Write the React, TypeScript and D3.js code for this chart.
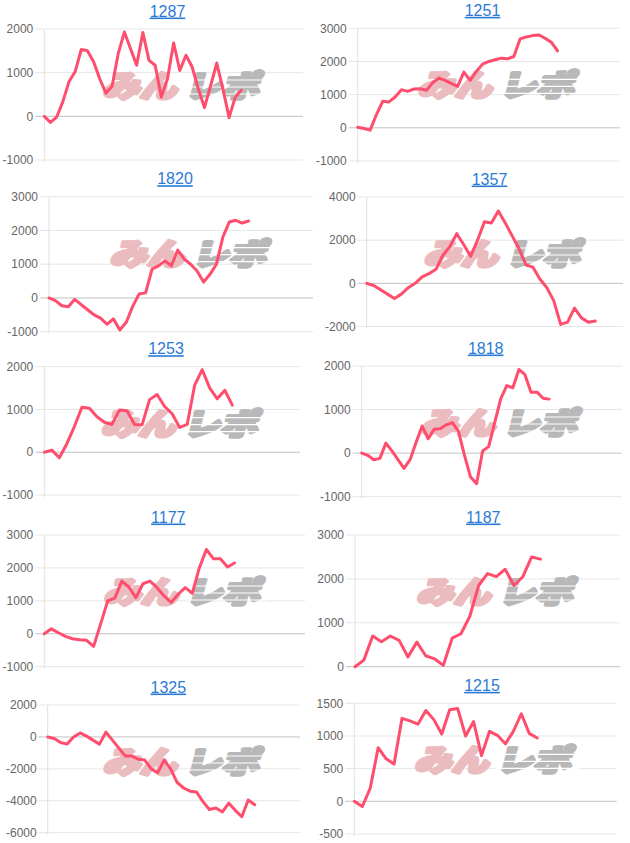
import React from "react";
import * as d3 from "d3";

// ---- data ----
const titles = ["1287", "1251", "1820", "1357", "1253", "1818", "1177", "1187", "1325", "1215"];

const s1287 = [0, -140, -20, 330, 790, 1020, 1530, 1500, 1250, 860, 530, 690, 1435, 1930, 1550, 1170, 1920, 1280, 1170, 440, 860, 1680, 1050, 1400, 1130, 630, 200, 700, 1220, 630, -30, 440, 600];
const s1251 = [20, -20, -70, 400, 800, 780, 930, 1150, 1100, 1170, 1180, 1130, 1360, 1500, 1430, 1340, 1250, 1680, 1430, 1700, 1920, 2000, 2050, 2100, 2080, 2150, 2680, 2740, 2780, 2800, 2700, 2580, 2320];
const s1820 = [0, -80, -230, -260, -40, -200, -350, -500, -600, -780, -620, -950, -720, -250, 120, 150, 850, 950, 1100, 950, 1420, 1150, 1000, 800, 470, 700, 1000, 1800, 2250, 2300, 2220, 2280];
const s1357 = [0, -100, -300, -500, -700, -500, -200, 0, 300, 450, 650, 1300, 1700, 2300, 1800, 1250, 2000, 2850, 2800, 3350, 2800, 2200, 1600, 850, 750, 200, -200, -800, -1900, -1800, -1150, -1600, -1800, -1750];
const s1253 = [0, 50, -130, 200, 600, 1050, 1030, 830, 700, 650, 990, 970, 650, 640, 1230, 1350, 1070, 900, 580, 650, 1570, 1930, 1500, 1250, 1450, 1100];
const s1818 = [0, -50, -150, -120, 230, 50, -150, -350, -150, 250, 620, 330, 550, 560, 650, 700, 500, -50, -550, -700, 50, 150, 700, 1250, 1550, 1500, 1920, 1800, 1400, 1400, 1260, 1240];
const s1177 = [0, 150, 30, -80, -150, -180, -200, -380, 300, 1000, 1080, 1600, 1420, 1100, 1520, 1600, 1400, 1150, 950, 1200, 1400, 1230, 2000, 2560, 2280, 2280, 2030, 2150];
const s1187 = [0, 150, 700, 570, 700, 600, 220, 560, 250, 180, 30, 650, 750, 1150, 1850, 2120, 2050, 2220, 1850, 2050, 2500, 2450];
const s1325 = [0, -100, -350, -450, 0, 250, 50, -200, -450, 300, -200, -700, -1200, -1200, -1400, -1450, -2000, -2250, -1450, -2000, -2850, -3200, -3400, -3450, -4050, -4550, -4450, -4700, -4150, -4600, -5000, -3950, -4250];
const s1215 = [0, -80, 200, 820, 650, 570, 1270, 1230, 1180, 1390, 1250, 1030, 1400, 1420, 1000, 1220, 700, 1070, 1010, 880, 1070, 1340, 1040, 970];

const seriesList = [s1287, s1251, s1820, s1357, s1253, s1818, s1177, s1187, s1325, s1215];

const ticks1287 = [2000, 1000, 0, -1000];
const ticks1251 = [3000, 2000, 1000, 0, -1000];
const ticks1820 = [3000, 2000, 1000, 0, -1000];
const ticks1357 = [4000, 2000, 0, -2000];
const ticks1253 = [2000, 1000, 0, -1000];
const ticks1818 = [2000, 1000, 0, -1000];
const ticks1177 = [3000, 2000, 1000, 0, -1000];
const ticks1187 = [3000, 2000, 1000, 0];
const ticks1325 = [2000, 0, -2000, -4000, -6000];
const ticks1215 = [1500, 1000, 500, 0, -500];

const tickList = [ticks1287, ticks1251, ticks1820, ticks1357, ticks1253, ticks1818, ticks1177, ticks1187, ticks1325, ticks1215];

// number of x category slots (last index) per chart
const xSlots = [42, 42, 41, 37, 34, 43, 37, 30, 39, 33];

// ---- layout (pixel boxes of each panel's plot area) ----
const boxes = [
  { l: 44.3, r: 303, t: 29, b: 160, tx: 167.5 },
  { l: 357.7, r: 620, t: 28.3, b: 161, tx: 482.5 },
  { l: 49, r: 313, t: 196.7, b: 331.7, tx: 175 },
  { l: 366.7, r: 623, t: 197, b: 326.5, tx: 489.5 },
  { l: 44.3, r: 300, t: 366.7, b: 495, tx: 166 },
  { l: 361.7, r: 621.7, t: 366, b: 496.7, tx: 485.7 },
  { l: 44.3, r: 305, t: 535, b: 666.7, tx: 168.3 },
  { l: 355, r: 620, t: 535, b: 666.7, tx: 483.3 },
  { l: 47.7, r: 300, t: 705, b: 832.7, tx: 168.3 },
  { l: 354.3, r: 616.7, t: 703.3, b: 834, tx: 482 },
];

const LINE = "#ff4d6d";
const FONT = "Arial, 'Liberation Sans', Helvetica, sans-serif";
const WM_FONT = "'Noto Sans CJK JP', 'Noto Sans', sans-serif";

function Panel({ i }: { i: number }) {
  const box = boxes[i];
  const ticks = tickList[i];
  const data = seriesList[i];
  const y = d3
    .scaleLinear()
    .domain([d3.min(ticks) as number, d3.max(ticks) as number])
    .range([box.b, box.t]);
  const x = d3.scaleLinear().domain([0, xSlots[i]]).range([box.l, box.r]);
  const line = d3
    .line<number>()
    .x((_, k) => x(k))
    .y((v) => y(v))
    .curve(d3.curveLinear);
  const wmCx = (box.l + box.r) / 2 + 10;
  const wmCy = box.t + 56;
  return (
    <g>
      <text
        x={box.tx}
        y={box.t - 12.5}
        textAnchor="middle"
        fontFamily={FONT}
        fontSize={16}
        fill="#2b7bd6"
        textDecoration="underline"
      >
        {titles[i]}
      </text>
      {ticks.map((t) => (
        <g key={t}>
          <line
            x1={box.l - 9}
            x2={box.r}
            y1={y(t)}
            y2={y(t)}
            stroke={t === 0 ? "#c2c2c2" : "#e6e6e6"}
            strokeWidth={1}
          />
          <text
            x={box.l - 11}
            y={y(t)}
            dy="0.35em"
            textAnchor="end"
            fontFamily={FONT}
            fontSize={12}
            fill="#666"
          >
            {t}
          </text>
        </g>
      ))}
      <line x1={box.l} x2={box.l} y1={box.t} y2={box.b + 2} stroke="#e0e0e0" strokeWidth={1} />
      <g transform={`translate(${wmCx},${wmCy}) skewX(-14)`}>
        <text
          x={-78}
          y={12}
          textLength={74}
          lengthAdjust="spacingAndGlyphs"
          fontFamily={WM_FONT}
          fontWeight={900}
          fontSize={30}
          fill="#ebbcbf"
          stroke="#ebbcbf"
          strokeWidth={3.6}
          strokeLinejoin="round"
        >
          みん
        </text>
        <text
          x={4}
          y={12}
          textLength={74}
          lengthAdjust="spacingAndGlyphs"
          fontFamily={WM_FONT}
          fontWeight={900}
          fontSize={30}
          fill="#b8b8b8"
          stroke="#b8b8b8"
          strokeWidth={3.6}
          strokeLinejoin="round"
        >
          レポ
        </text>
        {[-5, 2, 9].map((dy) => (
          <line key={dy} x1={2} x2={86} y1={dy} y2={dy} stroke="#fff" strokeWidth={1.2} />
        ))}
      </g>
      <path d={line(data) || ""} fill="none" stroke={LINE} strokeWidth={3} strokeLinejoin="round" strokeLinecap="round" />
    </g>
  );
}

export default function App() {
  return (
    <svg
      width={630}
      height={843}
      style={{ position: "absolute", left: 0, top: 0, background: "#fff" }}
    >
      <rect width={630} height={843} fill="#fff" />
      {titles.map((_, i) => (
        <Panel key={i} i={i} />
      ))}
    </svg>
  );
}
